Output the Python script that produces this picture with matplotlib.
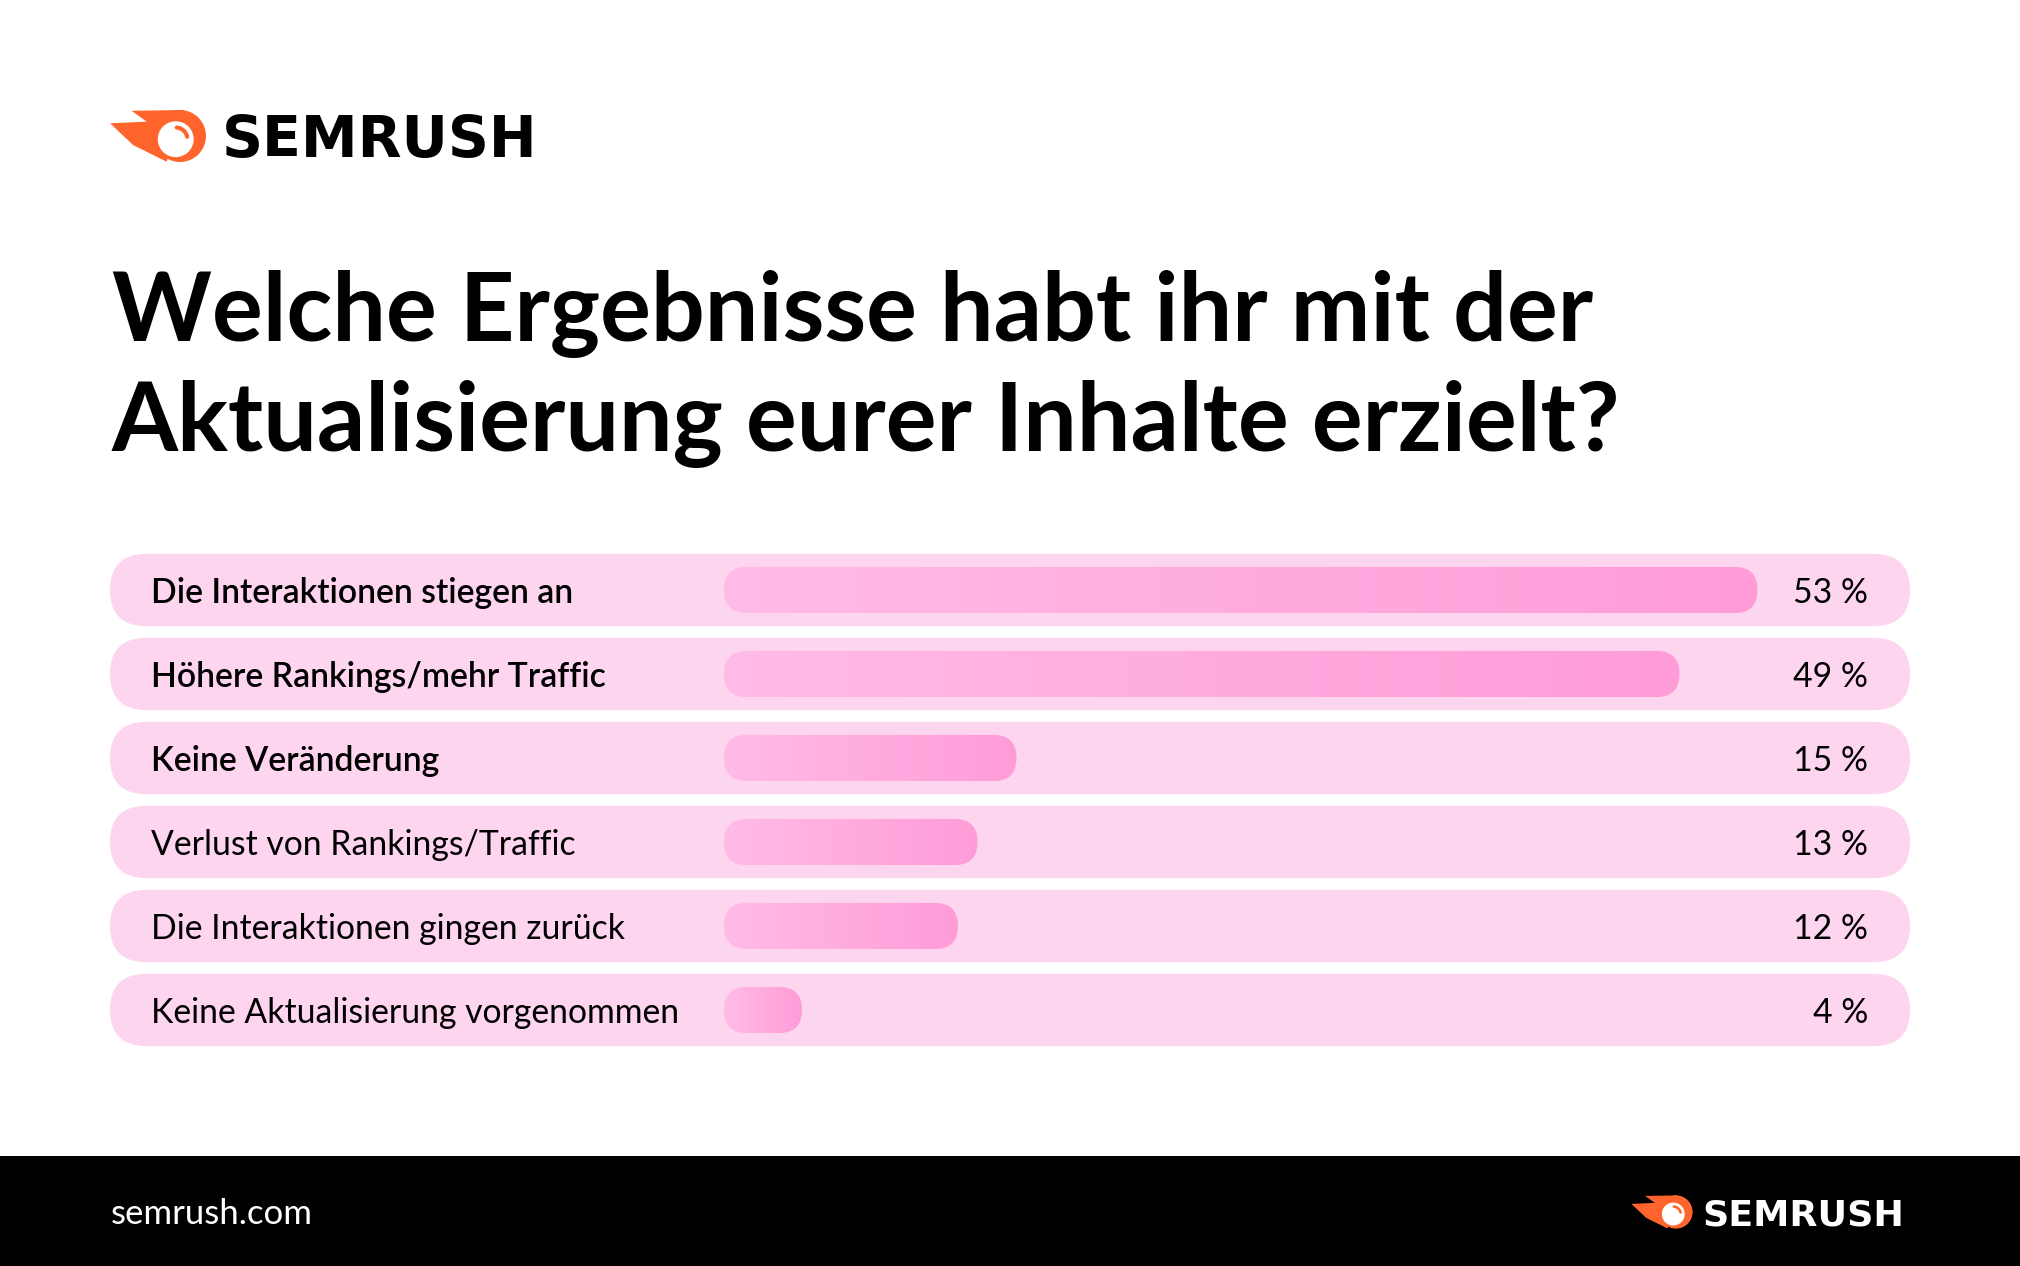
import matplotlib
matplotlib.use("Agg")
import matplotlib.pyplot as plt
import numpy as np
from matplotlib.patches import FancyBboxPatch, Rectangle, Circle, Polygon
from matplotlib.colors import LinearSegmentedColormap

# data
labels = ["Die Interaktionen stiegen an",
          "Höhere Rankings/mehr Traffic",
          "Keine Veränderung",
          "Verlust von Rankings/Traffic",
          "Die Interaktionen gingen zurück",
          "Keine Aktualisierung vorgenommen"]
values = [53, 49, 15, 13, 12, 4]
title_lines = ["Welche Ergebnisse habt ihr mit der",
               "Aktualisierung eurer Inhalte erzielt?"]
brand = "SEMRUSH"
footer_url = "semrush.com"

W, H = 2020, 1266
FONT = "Lato"
ORANGE = "#FF642D"
PILL = "#FED5EE"

fig = plt.figure(figsize=(W / 100, H / 100), dpi=100)
fig.patch.set_facecolor("white")

# background layer, pixel units (y down)
bg = fig.add_axes([0, 0, 1, 1], zorder=0)
bg.set_xlim(0, W)
bg.set_ylim(H, 0)
bg.axis("off")


def draw_logo(cx, cy, s, text_color):
    # flame + ball icon, s = radius of the orange ball
    flame = [(-1.86, -0.97), (0.13, -1.0), (-0.51, 0.99), (-1.8, 0.35),
             (-2.69, -0.49), (-1.28, -0.55)]
    bg.add_patch(Polygon([(cx + a * s, cy + b * s) for a, b in flame],
                         closed=True, color=ORANGE, lw=0))
    bg.add_patch(Circle((cx, cy), s, color=ORANGE, lw=0))
    wx, wy = cx - 0.165 * s, cy + 0.123 * s
    bg.add_patch(Circle((wx, wy), 0.69 * s, color="white", lw=0))
    t = np.radians(np.linspace(12, 85, 30))
    bg.plot(wx + 0.45 * s * np.cos(t), wy - 0.45 * s * np.sin(t),
            color=ORANGE, lw=0.16 * s * 0.72, solid_capstyle="round")
    fs = 1.6 * s / 0.729 * 0.72
    bg.text(cx + 1.6 * s, cy + 0.81 * s, brand, color=text_color,
            fontsize=fs, fontweight="bold", family="DejaVu Sans",
            ha="left", va="baseline")


draw_logo(180, 136, 26, "black")

# title
bg.text(112, 341, title_lines[0], fontsize=68.5, fontweight="bold",
        family=FONT, ha="left", va="baseline")
bg.text(112, 451, title_lines[1], fontsize=68.5, fontweight="bold",
        family=FONT, ha="left", va="baseline")

# footer
bg.add_patch(Rectangle((0, 1156), W, H - 1156, color="black", lw=0))
bg.text(111, 1224, footer_url, color="white", fontsize=25, family=FONT,
        ha="left", va="baseline")
draw_logo(1676, 1212, 16.6, "white")

# bars
left_px, right_px = 110, 1910
zero_px = 724
px_per_pct = 19.5
row_top, row_pitch = 548, 84
n = len(values)
ax = fig.add_axes([left_px / W, 1 - (row_top + row_pitch * n) / H,
                   (right_px - left_px) / W, row_pitch * n / H], zorder=1)
ax.patch.set_alpha(0)
xmin = -(zero_px - left_px) / px_per_pct
xmax = (right_px - zero_px) / px_per_pct
ax.set_xlim(xmin, xmax)
ax.set_ylim(n - 0.5, -0.5)
ax.axis("off")
aspect = px_per_pct / row_pitch

grad = LinearSegmentedColormap.from_list("pinkgrad", ["#FFBBE8", "#FF9CD8"])
pill_h = 0.86
bar_h = 0.55
for i, (lab, v) in enumerate(zip(labels, values)):
    ax.add_patch(FancyBboxPatch(
        (xmin, i - pill_h / 2), xmax - xmin, pill_h,
        boxstyle=f"round,pad=0,rounding_size={pill_h / 2 / aspect}",
        mutation_aspect=aspect, facecolor=PILL, lw=0, zorder=1))
    bar = FancyBboxPatch(
        (0, i - bar_h / 2), v, bar_h,
        boxstyle=f"round,pad=0,rounding_size={bar_h / 2 / aspect}",
        mutation_aspect=aspect, facecolor="none", lw=0, zorder=2)
    ax.add_patch(bar)
    im = ax.imshow(np.linspace(0, 1, 256).reshape(1, -1), cmap=grad,
                   extent=(0, v, i - bar_h / 2, i + bar_h / 2),
                   aspect="auto", interpolation="bilinear", zorder=3)
    im.set_clip_path(bar)
    weight = "semibold" if i < 3 else "normal"
    ax.text(0.0228, i + 0.03, lab, transform=ax.get_yaxis_transform(),
            fontsize=24.3, fontweight=weight, family=FONT,
            ha="left", va="center", zorder=4)
    ax.text(0.9767, i + 0.03, f"{v} %", transform=ax.get_yaxis_transform(),
            fontsize=24.3, family=FONT, ha="right", va="center", zorder=4)

ax.set_xlim(xmin, xmax)
ax.set_ylim(n - 0.5, -0.5)

fig.savefig("out.png", dpi=100, facecolor="white")
